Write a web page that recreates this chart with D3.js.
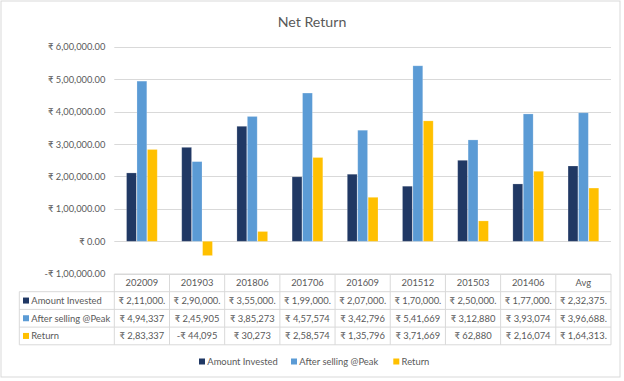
<!DOCTYPE html>
<html>
<head>
<meta charset="utf-8">
<script src="https://cdn.jsdelivr.net/npm/d3@7"></script>
<style>
  html, body { margin: 0; padding: 0; background: #fff; }
  svg { display: block; font-family: Lato, "Noto Sans", sans-serif; }
</style>
</head>
<body>
<div id="chart"></div>
<script>
// ---------- DATA ----------
const categories = ["202009", "201903", "201806", "201706", "201609", "201512", "201503", "201406", "Avg"];
const seriesNames = ["Amount Invested", "After selling @Peak", "Return"];
const amountInvested = [211000, 290000, 355000, 199000, 207000, 170000, 250000, 177000, 232375];
const afterSelling = [494337, 245905, 385273, 457574, 342796, 541669, 312880, 393074, 396688.375];
const returns = [283337, -44095, 30273, 258574, 135796, 371669, 62880, 216074, 164313.375];
const yTicks = [-100000, 0, 100000, 200000, 300000, 400000, 500000, 600000];
const colors = ["#203864", "#5b9bd5", "#ffc000"];
const title = "Net Return";

const seriesValues = [amountInvested, afterSelling, returns];

// Indian rupee formatting
function inr(v, dec) {
  const neg = v < 0;
  const s = Math.abs(v).toFixed(dec);
  const parts = s.split(".");
  const intPart = parts[0];
  let last3 = intPart.slice(-3);
  let rest = intPart.slice(0, -3);
  if (rest) rest = rest.replace(/\B(?=(\d{2})+(?!\d))/g, ",") + ",";
  return (neg ? "-" : "") + "\u20B9 " + rest + last3 + (parts[1] ? "." + parts[1] : "");
}

// ---------- LAYOUT ----------
const W = 624, H = 381;
const plotLeft = 114.3, plotRight = 611;
const yTop = 46.9, yBottom = 273.7;
const textColor = "#595959";
const gridColor = "#d9d9d9";

const svg = d3.select("#chart").append("svg").attr("width", W).attr("height", H);
svg.append("rect").attr("x", 0).attr("y", 0).attr("width", W).attr("height", H).attr("fill", "#fff");
svg.append("rect").attr("x", 1).attr("y", 1).attr("width", 619).attr("height", 376)
  .attr("fill", "#fff").attr("stroke", gridColor).attr("stroke-width", 1);

// title
svg.append("text").attr("x", 312).attr("y", 27.3).attr("text-anchor", "middle")
  .attr("fill", textColor).attr("font-size", 14.2).text(title);

// scales
const y = d3.scaleLinear().domain([d3.min(yTicks), d3.max(yTicks)]).range([yBottom, yTop]);
const x = d3.scaleBand().domain(categories).range([plotLeft, plotRight]).paddingInner(0.433).paddingOuter(0.2165);
const xs = d3.scaleBand().domain(seriesNames).range([0, x.bandwidth()]);
const step = x.step();
const colLeft = c => x(c) - x.bandwidth() * 0 - (step - x.bandwidth()) / 2;

// gridlines
svg.append("g").selectAll("line").data(yTicks).join("line")
  .attr("x1", plotLeft).attr("x2", plotRight)
  .attr("y1", d => Math.round(y(d)) + 0.5).attr("y2", d => Math.round(y(d)) + 0.5)
  .attr("stroke", gridColor).attr("stroke-width", 1);

// y axis labels
const yAxis = d3.axisLeft(y).tickValues(yTicks).tickSize(0).tickPadding(0).tickFormat(d => inr(d, 2));
const gy = svg.append("g").attr("transform", `translate(${plotLeft - 9},0)`).call(yAxis);
gy.select(".domain").remove();
gy.selectAll("text").attr("fill", textColor).attr("font-size", 9.3).attr("font-family", "Lato, 'Noto Sans', sans-serif");

// bars
const groups = svg.append("g").selectAll("g").data(categories).join("g")
  .attr("transform", c => `translate(${x(c)},0)`);
groups.selectAll("rect").data((c, i) => seriesNames.map((s, k) => ({ s, k, v: seriesValues[k][i] })))
  .join("rect")
  .attr("x", d => xs(d.s) + 0.3)
  .attr("width", xs.bandwidth() - 0.6)
  .attr("y", d => y(Math.max(0, d.v)))
  .attr("height", d => Math.abs(y(d.v) - y(0)))
  .attr("fill", d => colors[d.k])
  .attr("stroke", "rgba(255,255,255,0.25)").attr("stroke-width", 0.8);

// data table
const tableLeft = 19.3;
const rowTops = [274, 291.7, 309.4, 327.1, 344.8];
const tbl = svg.append("g");
// horizontal lines
rowTops.forEach((ry, i) => {
  tbl.append("line").attr("x1", i === 0 ? plotLeft : tableLeft).attr("x2", plotRight)
    .attr("y1", ry).attr("y2", ry).attr("stroke", gridColor).attr("stroke-width", 1);
});
// vertical lines
const colEdges = categories.map(c => colLeft(c)).concat([plotRight]);
colEdges.forEach(cx => {
  tbl.append("line").attr("x1", cx).attr("x2", cx).attr("y1", rowTops[0]).attr("y2", rowTops[4])
    .attr("stroke", gridColor).attr("stroke-width", 1);
});
tbl.append("line").attr("x1", tableLeft).attr("x2", tableLeft).attr("y1", rowTops[1]).attr("y2", rowTops[4])
  .attr("stroke", gridColor).attr("stroke-width", 1);

const fs = 9.4;
// header
tbl.selectAll("text.hdr").data(categories).join("text").attr("class", "hdr")
  .attr("x", c => x(c) + x.bandwidth() / 2).attr("y", (rowTops[0] + rowTops[1]) / 2)
  .attr("dy", "0.35em").attr("text-anchor", "middle").attr("fill", textColor).attr("font-size", fs)
  .text(c => c);
// rows
seriesNames.forEach((s, k) => {
  const cy = (rowTops[k + 1] + rowTops[k + 2]) / 2;
  tbl.append("rect").attr("x", 23).attr("y", cy - 3).attr("width", 6).attr("height", 6).attr("fill", colors[k]);
  tbl.append("text").attr("x", 31.3).attr("y", cy).attr("dy", "0.35em").attr("fill", textColor)
    .attr("font-size", fs).text(s);
  tbl.selectAll(null).data(categories).join("text")
    .attr("x", c => x(c) + x.bandwidth() / 2).attr("y", cy).attr("dy", "0.35em")
    .attr("text-anchor", "middle").attr("fill", textColor).attr("font-size", fs)
    .text((c, i) => {
      const v = seriesValues[k][i];
      const dec = (k === 0 || !Number.isInteger(v)) ? 2 : 0;
      return inr(v, dec).slice(0, 11);
    });
});

// legend
const legendX = [199, 291, 393.3];
const lg = svg.append("g");
seriesNames.forEach((s, k) => {
  lg.append("rect").attr("x", legendX[k]).attr("y", 361.5 - 3).attr("width", 6).attr("height", 6).attr("fill", colors[k]);
  lg.append("text").attr("x", legendX[k] + 8.3).attr("y", 361.5).attr("dy", "0.35em")
    .attr("fill", textColor).attr("font-size", fs).text(s);
});
</script>
</body>
</html>
